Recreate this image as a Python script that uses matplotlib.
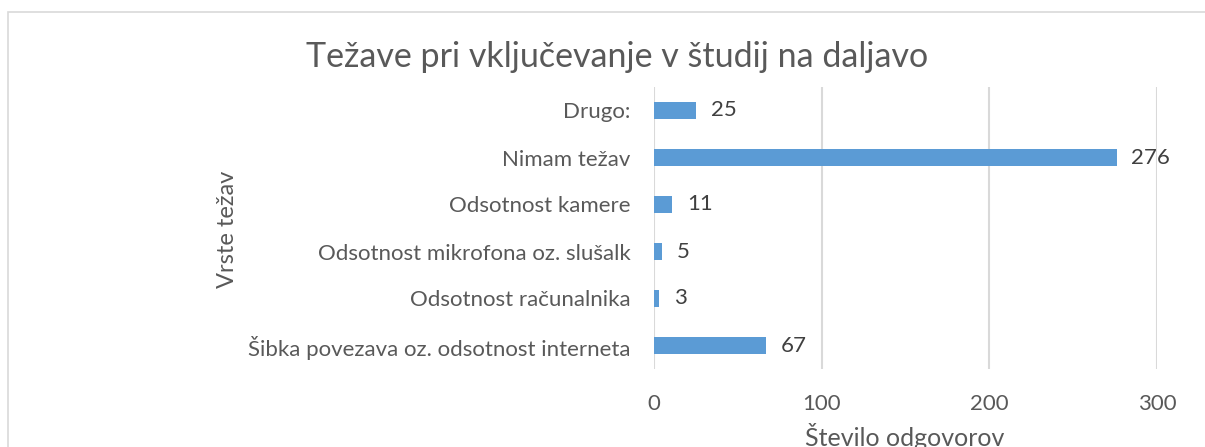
import matplotlib
matplotlib.use("Agg")
import matplotlib.pyplot as plt
from matplotlib.patches import Rectangle

# Podatki
kategorije = ['Šibka povezava oz. odsotnost interneta',
              'Odsotnost računalnika',
              'Odsotnost mikrofona oz. slušalk',
              'Odsotnost kamere',
              'Nimam težav',
              'Drugo:']
odgovori = [67, 3, 5, 11, 276, 25]
x_ticks = [0, 100, 200, 300]

naslov = 'Težave pri vključevanje v študij na daljavo'
x_oznaka = 'Število odgovorov'
y_oznaka = 'Vrste težav'

plt.rcParams['font.family'] = ['Lato', 'DejaVu Sans']
siva = '#595959'

fig = plt.figure(figsize=(12.05, 4.47), dpi=100)
ax = fig.add_axes([654/1205, 78/447, 503/1205, 282/447])

bars = ax.barh(range(len(kategorije)), odgovori, height=0.35, color='#5B9BD5')
ax.bar_label(bars, padding=10.5, fontsize=16, color='#404040')

ax.set_xlim(0, 300)
ax.set_ylim(-0.5, len(kategorije) - 0.5)
ax.set_xticks(x_ticks)
ax.set_yticks(range(len(kategorije)))
ax.set_yticklabels(kategorije)
ax.tick_params(axis='both', length=0, labelsize=16, labelcolor=siva)
ax.tick_params(axis='y', pad=17)
ax.tick_params(axis='x', pad=18)
ax.grid(axis='x', color='#D9D9D9', linewidth=1.5)
ax.set_axisbelow(True)
for s in ax.spines.values():
    s.set_visible(False)

fig.text(905/1205, 1 - 437/447, x_oznaka, fontsize=18, color=siva,
         ha='center', va='center')
fig.text(227/1205, 1 - 229/447, y_oznaka, rotation=90, fontsize=17,
         color=siva, ha='center', va='center')
fig.text(617.5/1205, 1 - 57/447, naslov, fontsize=24.5, color=siva,
         ha='center', va='center')

# okvir grafa
fig.patches.append(Rectangle((8/1205, -0.1), 1.2, 1 - 12/447 + 0.1,
                             transform=fig.transFigure, fill=False,
                             edgecolor='#D9D9D9', linewidth=1.2))

plt.savefig('out.png', dpi=100)
